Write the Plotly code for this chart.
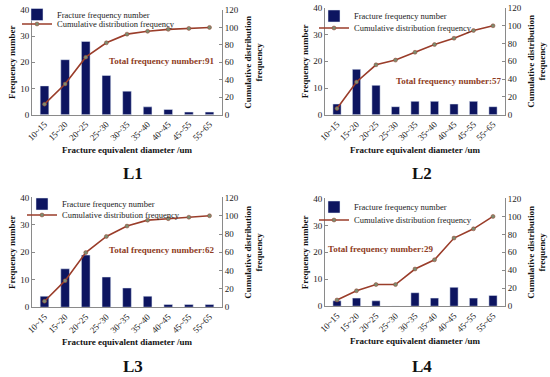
import plotly.graph_objects as go

categories = ["10~15", "15~20", "20~25", "25~30", "30~35", "35~40", "40~45", "45~55", "55~65"]

l1_freq = [11, 21, 28, 15, 9, 3, 2, 1, 1]
l1_cum = [12.1, 35.2, 65.9, 82.4, 92.3, 95.6, 97.8, 98.9, 100]
l2_freq = [4, 17, 11, 3, 5, 5, 4, 5, 3]
l2_cum = [7.0, 36.8, 56.1, 61.4, 70.2, 78.9, 86.0, 94.7, 100]
l3_freq = [4, 14, 19, 11, 7, 4, 1, 1, 1]
l3_cum = [6.5, 29.0, 59.7, 77.4, 88.7, 95.2, 96.8, 98.4, 100]
l4_freq = [2, 3, 2, 0, 5, 3, 7, 3, 4]
l4_cum = [6.9, 17.2, 24.1, 24.1, 41.4, 51.7, 75.9, 86.2, 100]

panel_names = ["L1", "L2", "L3", "L4"]
totals = [91, 57, 62, 29]

W, H = 550, 377
FONT = "Liberation Serif"
BAR = "#0d1560"
LINE = "#9a3d2a"
MARK = "#7d8c70"
AX = "#8a8a8a"

# pixel boxes (left, right, top, bottom)
boxes = [(32, 222, 9, 114), (325, 505, 7, 114), (32, 222, 197, 307), (325, 505, 198, 306)]
total_pos = [(162, 60), (449, 80), (162, 250), (381, 249)]
title_pos = [(133, 173), (422, 173), (133, 366), (422, 366)]
# legend: (text start x, row1 y, row2 y)
legend_pos = [(58, 14, 24), (355, 16, 28), (63, 204, 215), (355, 207, 220)]
data = [(l1_freq, l1_cum), (l2_freq, l2_cum), (l3_freq, l3_cum), (l4_freq, l4_cum)]

def px(x):
    return x / W

def py(y):
    return 1 - y / H

fig = go.Figure()
annotations = []
layout = {}
for i, (name, (freq, cum), box) in enumerate(zip(panel_names, data, boxes)):
    n = i + 1
    xa = "x" if n == 1 else f"x{n}"
    ya = f"y{2*n-1}" if n > 1 else "y"
    ya2 = f"y{2*n}"
    leg1 = "legend" if n == 1 else f"legend{2*n-1}"
    leg2 = f"legend{2*n}"
    fig.add_trace(go.Bar(x=categories, y=freq, name="Fracture frequency number",
                         marker_color=BAR, width=0.42, xaxis=xa, yaxis=ya, legend=leg1))
    fig.add_trace(go.Scatter(x=categories, y=cum, name="Cumulative distribution frequency",
                             mode="lines+markers", line=dict(color=LINE, width=1.6),
                             marker=dict(color=MARK, size=4, symbol="circle",
                                         line=dict(color=LINE, width=0.5)),
                             xaxis=xa, yaxis=ya2, legend=leg2))
    l, r, t, b = box
    xkey = "xaxis" if n == 1 else f"xaxis{n}"
    ykey = "yaxis" if n == 1 else f"yaxis{2*n-1}"
    y2key = f"yaxis{2*n}"
    layout[xkey] = dict(domain=[px(l), px(r)], anchor=ya, tickangle=-45, automargin=False,
                        showline=True, linecolor=AX, linewidth=1, ticks="",
                        tickfont=dict(family=FONT, size=9, color="#222"),
                        title=dict(text="<b>Fracture equivalent diameter /um</b>",
                                   font=dict(family=FONT, size=9, color="#111"),
                                   standoff=4),
                        showgrid=False, zeroline=False)
    layout[ykey] = dict(domain=[py(b), py(t)], anchor=xa, range=[0, 40], dtick=10,
                        automargin=False,
                        showline=True, linecolor=AX, linewidth=1, ticks="inside", ticklen=3,
                        tickcolor=AX,
                        tickfont=dict(family=FONT, size=9, color="#222"),
                        title=dict(text="<b>Frequency number</b>",
                                   font=dict(family=FONT, size=9, color="#111"),
                                   standoff=3),
                        showgrid=False, zeroline=False)
    layout[y2key] = dict(overlaying=ya, anchor=xa, side="right", range=[0, 120], dtick=20,
                         automargin=False,
                         showline=True, linecolor=AX, linewidth=1, ticks="inside", ticklen=3,
                         tickcolor=AX,
                         tickfont=dict(family=FONT, size=9, color="#222"),
                         title=dict(text="<b>Cumulative distribution<br>frequency</b>",
                                    font=dict(family=FONT, size=9, color="#111"),
                                    standoff=6),
                         showgrid=False, zeroline=False)
    lx, r1, r2 = legend_pos[i]
    for key, ry in ((leg1, r1), (leg2, r2)):
        layout[key] = dict(x=px(lx - 41), y=py(ry), xanchor="left", yanchor="middle",
                           bgcolor="rgba(0,0,0,0)", itemwidth=30,
                           font=dict(family=FONT, size=8.5, color="#222"))
    tx, ty = total_pos[i]
    annotations.append(dict(x=px(tx), y=py(ty), xref="paper", yref="paper",
                            xanchor="center", yanchor="middle",
                            text=f"<b>Total frequency number:{totals[i]}</b>", showarrow=False,
                            font=dict(family=FONT, size=9, color="#8e3b22")))
    cx, cy = title_pos[i]
    annotations.append(dict(x=px(cx), y=py(cy), xref="paper", yref="paper",
                            xanchor="center", yanchor="middle",
                            text=f"<b>{name}</b>", showarrow=False,
                            font=dict(family=FONT, size=17, color="#111")))

fig.update_layout(**layout)
fig.update_layout(width=W, height=H, margin=dict(l=0, r=0, t=0, b=0),
                  paper_bgcolor="white", plot_bgcolor="white",
                  annotations=annotations, bargap=0.5, showlegend=True)
fig.write_html("out.html", config={"displayModeBar": False},
               post_script="document.body.style.margin='0';document.body.style.overflow='hidden';")
